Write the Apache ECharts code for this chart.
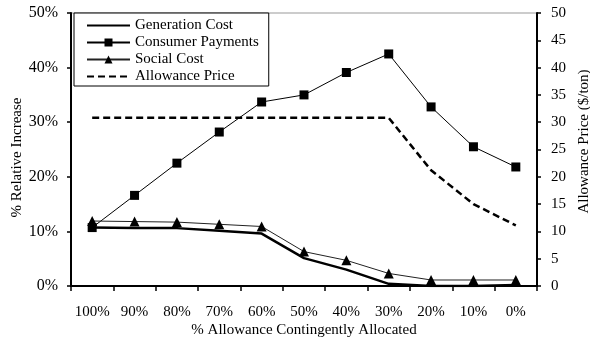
<!DOCTYPE html>
<html><head><meta charset="utf-8">
<script src="https://cdn.jsdelivr.net/npm/echarts@6/dist/echarts.min.js"></script>
<style>html,body{margin:0;padding:0;background:#fff}#c{width:590px;height:342px}</style>
</head><body><div id="c"></div>
<script>
var categories = ['100%','90%','80%','70%','60%','50%','40%','30%','20%','10%','0%'];
var generationCost = [10.7, 10.6, 10.6, 10.1, 9.6, 5.1, 3.0, 0.4, 0.0, 0.0, 0.2];
var consumerPayments = [10.7, 16.6, 22.5, 28.2, 33.7, 35.0, 39.1, 42.5, 32.8, 25.5, 21.8];
var socialCost = [11.9, 11.8, 11.7, 11.3, 10.9, 6.3, 4.7, 2.3, 1.1, 1.1, 1.1];
var allowancePrice = [30.8, 30.8, 30.8, 30.8, 30.8, 30.8, 30.8, 30.8, 21.2, 15.0, 11.1];

var FONT = '"Liberation Serif", "Times New Roman", serif';
var chart = echarts.init(document.getElementById('c'), null, {renderer: 'canvas'});
chart.setOption({
  animation: false,
  backgroundColor: '#fff',
  textStyle: {fontFamily: FONT, color: '#000'},
  grid: {left: 71, right: 53, top: 13, bottom: 56, show: true, borderColor: '#999', borderWidth: 1,
         containLabel: false, outerBoundsMode: 'none'},
  legend: {
    left: 74, top: 13, orient: 'vertical',
    backgroundColor: '#fff', borderColor: '#000', borderWidth: 1,
    padding: [4, 10, 1, 12],
    itemWidth: 43, itemHeight: 10, itemGap: 0,
    textStyle: {fontFamily: FONT, fontSize: 15, color: '#000', lineHeight: 17},
    data: [
      {name: 'Generation Cost', itemStyle: {opacity: 0}},
      {name: 'Consumer Payments'},
      {name: 'Social Cost'},
      {name: 'Allowance Price', itemStyle: {opacity: 0}}
    ]
  },
  xAxis: {
    type: 'category', data: categories, boundaryGap: true,
    name: '% Allowance Contingently Allocated', nameLocation: 'middle', nameGap: 37,
    nameMoveOverlap: false,
    nameTextStyle: {fontFamily: FONT, fontSize: 15, color: '#000'},
    axisLine: {lineStyle: {color: '#000', width: 2}},
    axisTick: {show: true, length: 5, interval: 0, lineStyle: {color: '#000', width: 1.5}},
    axisLabel: {fontFamily: FONT, fontSize: 15, color: '#000', margin: 19, interval: 0}
  },
  yAxis: [{
    type: 'value', min: 0, max: 50, interval: 10, position: 'left',
    name: '% Relative Increase', nameLocation: 'middle', nameGap: 46,
    nameMoveOverlap: false,
    nameTextStyle: {fontFamily: FONT, fontSize: 15, color: '#000', padding: [0, 16, 0, 0]},
    axisLine: {show: true, lineStyle: {color: '#000', width: 2}},
    axisTick: {show: true, length: 4, lineStyle: {color: '#000', width: 1.5}},
    axisLabel: {fontFamily: FONT, fontSize: 16, color: '#000', formatter: '{value}%', margin: 13},
    splitLine: {show: false}
  }, {
    type: 'value', min: 0, max: 50, interval: 5, position: 'right',
    name: 'Allowance Price ($/ton)', nameLocation: 'middle', nameGap: 40,
    nameMoveOverlap: false,
    nameTextStyle: {fontFamily: FONT, fontSize: 15, color: '#000', padding: [0, 0, 0, 16]},
    axisLine: {show: true, lineStyle: {color: '#000', width: 2}},
    axisTick: {show: true, length: 4, lineStyle: {color: '#000', width: 1.5}},
    axisLabel: {fontFamily: FONT, fontSize: 15, color: '#000', margin: 14},
    splitLine: {show: false}
  }],
  series: [{
    name: 'Generation Cost', type: 'line', data: generationCost, yAxisIndex: 0,
    symbol: 'none', lineStyle: {color: '#000', width: 2.5}, itemStyle: {color: '#000'}
  }, {
    name: 'Consumer Payments', type: 'line', data: consumerPayments, yAxisIndex: 0,
    symbol: 'rect', symbolSize: 9, lineStyle: {color: '#000', width: 1}, itemStyle: {color: '#000'}
  }, {
    name: 'Social Cost', type: 'line', data: socialCost, yAxisIndex: 0,
    symbol: 'triangle', symbolSize: 10, lineStyle: {color: '#222', width: 1}, itemStyle: {color: '#000'}
  }, {
    name: 'Allowance Price', type: 'line', data: allowancePrice, yAxisIndex: 1,
    symbol: 'none', lineStyle: {color: '#000', width: 2.5, type: [7, 4]}, itemStyle: {color: '#000'}
  }]
});
</script></body></html>
